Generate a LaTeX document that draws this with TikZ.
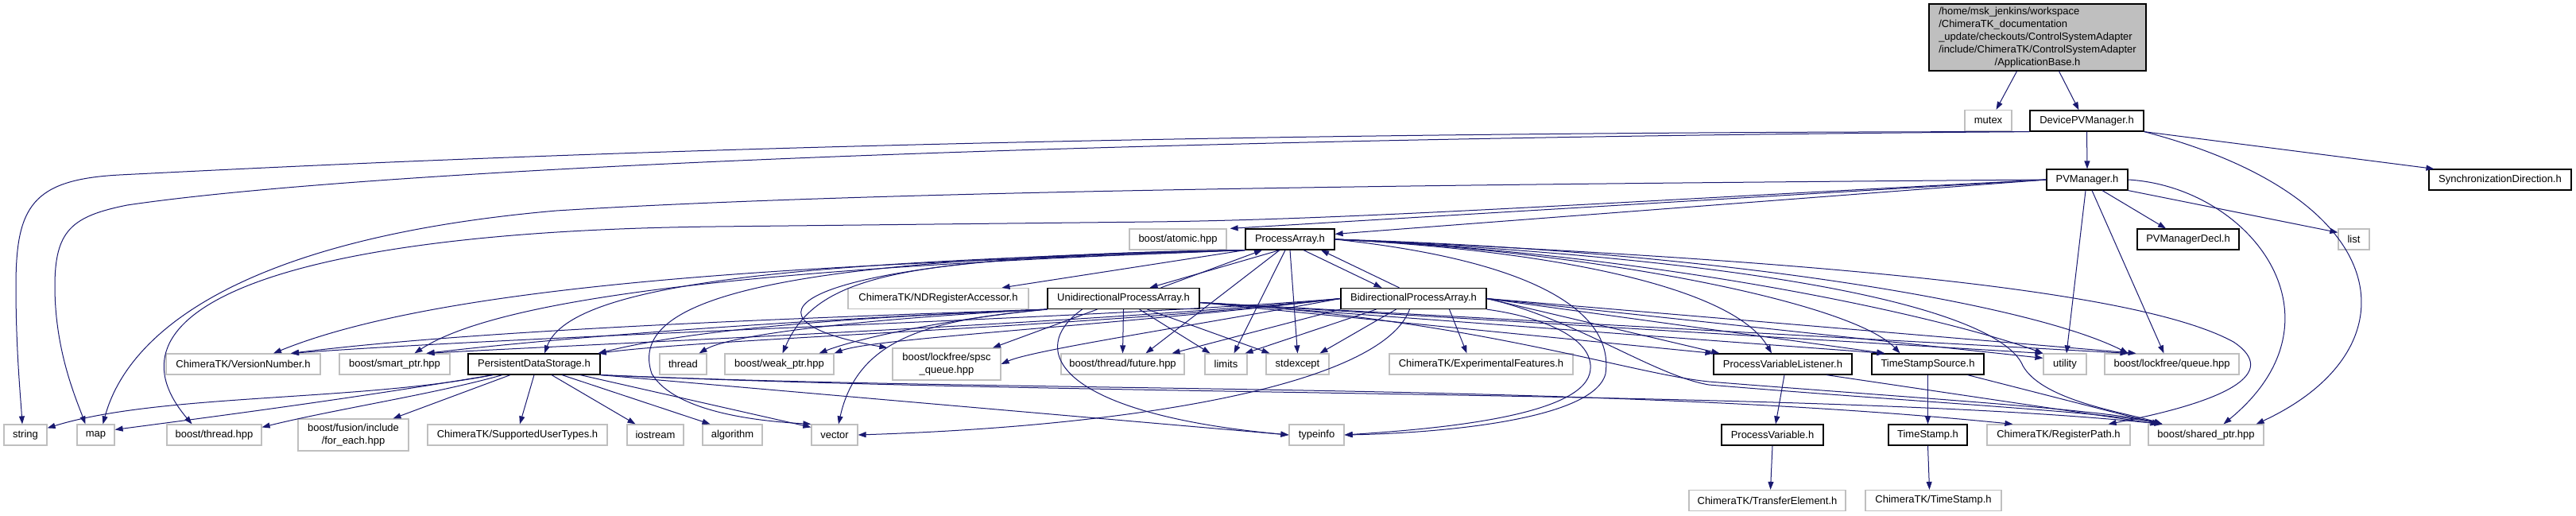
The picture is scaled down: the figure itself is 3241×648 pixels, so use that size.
\documentclass[tikz,border=0pt]{standalone}
\usepackage{fontspec}
\setmainfont{Liberation Sans}
\usetikzlibrary{arrows.meta,calc}

\definecolor{dxblue}{HTML}{191970}
\definecolor{dxgray}{HTML}{BFBFBF}

\tikzset{
  hdr/.style={rectangle, draw=black, line width=1.2pt, fill=white, minimum height=26pt, inner sep=0pt, font=\fontsize{13}{16}\selectfont},
  syshdr/.style={hdr, draw=dxgray},
  dep/.style={draw=dxblue, line width=1pt, -{Triangle[length=10pt,width=7pt]}},
}

\begin{document}
\begin{tikzpicture}[x=1pt,y=-1pt]
\path[fill=white,use as bounding box] (0,0) rectangle (3241,648);

% File being documented
\node[hdr, fill=dxgray, minimum width=273pt, minimum height=84pt] (root) at (2563.5,47) {\begin{tabular}{@{}l@{}}/home/msk\_jenkins/workspace\\/ChimeraTK\_documentation\\\_update/checkouts/ControlSystemAdapter\\/include/ChimeraTK/ControlSystemAdapter\\\multicolumn{1}{@{}c@{}}{/ApplicationBase.h}\end{tabular}};

% Upper headers
\node[syshdr, minimum width=59pt] (mutex) at (2501.5,151.5) {mutex};
\node[hdr, minimum width=143pt] (devpvm) at (2625.5,152) {DevicePVManager.h};
\node[hdr, minimum width=102pt] (pvmgr) at (2626,226) {PVManager.h};
\node[hdr, minimum width=179pt] (syncdir) at (3145.5,226) {SynchronizationDirection.h};
\node[syshdr, minimum width=122pt] (atomic) at (1482,301) {boost/atomic.hpp};
\node[hdr, minimum width=112pt] (parray) at (1623,301) {ProcessArray.h};
\node[hdr, minimum width=128pt] (pvdecl) at (2753,301) {PVManagerDecl.h};
\node[syshdr, minimum width=39pt] (list) at (2961.5,301) {list};
\node[syshdr, minimum width=227pt] (ndracc) at (1180.5,375.5) {ChimeraTK/NDRegisterAccessor.h};
\node[hdr, minimum width=191pt] (uniarr) at (1413.5,375.5) {UnidirectionalProcessArray.h};
\node[hdr, minimum width=183pt] (biarr) at (1778.5,375.5) {BidirectionalProcessArray.h};

% Middle row
\node[syshdr, minimum width=194pt] (vernum) at (306,458) {ChimeraTK/VersionNumber.h};
\node[syshdr, minimum width=139pt] (smartptr) at (496.5,458) {boost/smart\_ptr.hpp};
\node[hdr, minimum width=166pt] (pstore) at (672,458) {PersistentDataStorage.h};
\node[syshdr, minimum width=59pt] (thread) at (859.5,458) {thread};
\node[syshdr, minimum width=137pt] (weakptr) at (980.5,458) {boost/weak\_ptr.hpp};
\node[syshdr, minimum width=136pt, minimum height=40pt, align=center] (spscq) at (1191,458) {boost/lockfree/spsc\\\_queue.hpp};
\node[syshdr, minimum width=155pt] (future) at (1412.5,458) {boost/thread/future.hpp};
\node[syshdr, minimum width=53pt] (limits) at (1542.5,458) {limits};
\node[syshdr, minimum width=79pt] (stdexcept) at (1632.5,458) {stdexcept};
\node[syshdr, minimum width=231pt] (expfeat) at (1863.5,458) {ChimeraTK/ExperimentalFeatures.h};
\node[hdr, minimum width=174pt] (pvlisten) at (2243,458) {ProcessVariableListener.h};
\node[hdr, minimum width=141pt] (tssource) at (2425.5,458) {TimeStampSource.h};
\node[syshdr, minimum width=54pt] (utility) at (2598,458) {utility};
\node[syshdr, minimum width=169pt] (lfqueue) at (2732.5,458) {boost/lockfree/queue.hpp};

% Lower rows
\node[syshdr, minimum width=54pt] (string) at (32,547) {string};
\node[syshdr, minimum width=47pt] (map) at (120.5,547) {map};
\node[syshdr, minimum width=119pt] (bthread) at (269.5,547) {boost/thread.hpp};
\node[syshdr, minimum width=139pt, minimum height=40pt, align=center] (fusion) at (444.5,547) {boost/fusion/include\\/for\_each.hpp};
\node[syshdr, minimum width=226pt] (suptypes) at (651,547) {ChimeraTK/SupportedUserTypes.h};
\node[syshdr, minimum width=71pt] (iostream) at (824.5,547) {iostream};
\node[syshdr, minimum width=75pt] (algorithm) at (921.5,547) {algorithm};
\node[syshdr, minimum width=58pt] (vector) at (1050,547) {vector};
\node[syshdr, minimum width=69pt] (typeinfo) at (1656.5,547) {typeinfo};
\node[hdr, minimum width=128pt] (procvar) at (2230,547) {ProcessVariable.h};
\node[hdr, minimum width=99pt] (tstamp) at (2425.5,547) {TimeStamp.h};
\node[syshdr, minimum width=180pt] (regpath) at (2590,547) {ChimeraTK/RegisterPath.h};
\node[syshdr, minimum width=145pt] (sharedptr) at (2775.5,547) {boost/shared\_ptr.hpp};
\node[syshdr, minimum width=197pt] (xferelem) at (2223.5,629.5) {ChimeraTK/TransferElement.h};
\node[syshdr, minimum width=171pt] (ctkstamp) at (2432.5,629.5) {ChimeraTK/TimeStamp.h};

% Short downward includes
\foreach \a/\s/\b/\t in {root/-26/mutex/10, root/27/devpvm/-10, devpvm/0/pvmgr/0,
  pvmgr/19/pvdecl/-28, pvmgr/-2/utility/2, pvmgr/6/lfqueue/-10,
  parray/-13/uniarr/33, parray/17/biarr/-40, parray/-13/future/29, parray/-6/limits/10, parray/0/stdexcept/0,
  uniarr/-33/spscq/58, uniarr/0/future/0, uniarr/20/limits/-20, uniarr/30/stdexcept/-35,
  biarr/45/expfeat/-18, biarr/-22/stdexcept/28, biarr/-47/limits/24,
  pstore/-30/fusion/50, pstore/0/suptypes/3, pstore/22/iostream/-25, pstore/35/algorithm/-28,
  pvlisten/2/procvar/4, tssource/0/tstamp/0, procvar/0/xferelem/4, tstamp/0/ctkstamp/-5,
  pvlisten/55/sharedptr/-60, tssource/50/sharedptr/-58}
  \draw[dep] ([xshift=\s pt]\a.south) -- ([xshift=\t pt]\b.north);

% Back edges of the array headers
\draw[dep] ([xshift=47pt]uniarr.north) -- ([xshift=-35pt]parray.south);
\draw[dep] ([xshift=-18pt]biarr.north) -- ([xshift=39pt]parray.south);

% DevicePVManager.h
\draw[dep] (devpvm.south east) -- ([xshift=7pt]syncdir.north west);
\draw[dep] (devpvm.south east) .. controls (3020,250) and (3040,440) .. ([xshift=-10pt]sharedptr.north east);
\draw[dep] (devpvm.south west) .. controls (1200,166) and (450,205) .. (150,220) .. controls (40,226) and (20,260) .. (20,360) .. controls (20,440) and (26,500) .. ([xshift=-4pt]string.north);
\draw[dep] (devpvm.south west) .. controls (1300,175) and (450,215) .. (160,258) .. controls (90,272) and (69,290) .. (69,360) .. controls (69,440) and (95,500) .. ([xshift=-13pt]map.north);

% PVManager.h
\draw[dep] (pvmgr.west) -- ([xshift=4pt]atomic.north east);
\draw[dep] (pvmgr.west) -- ($(parray.north east)+(0,7)$);
\draw[dep] (pvmgr.west) .. controls (1800,232) and (1100,240) .. (700,265) .. controls (300,300) and (160,420) .. ([xshift=9pt]map.north);
\draw[dep] (pvmgr.west) .. controls (2000,256) and (1700,276) .. (1450,279) -- (900,285) .. controls (350,291) and (120,390) .. ([xshift=-28pt]bthread.north);
\draw[dep] (pvmgr.south east) -- ($(list.north west)+(0,5)$);
\draw[dep] (pvmgr.east) .. controls (2830,235) and (2960,400) .. ([xshift=22pt]sharedptr.north);

% ProcessArray.h, left side
\draw[dep] (parray.south west) -- ([xshift=80pt]ndracc.north);
\draw[dep] (parray.south west) .. controls (1200,330) and (600,340) .. ([xshift=38pt]vernum.north);
\draw[dep] (parray.south west) .. controls (1100,332) and (650,360) .. ([xshift=25pt]smartptr.north);
\draw[dep] (parray.south west) .. controls (1050,328) and (720,350) .. ([xshift=13pt]pstore.north);
\draw[dep] (parray.south west) .. controls (1150,325) and (1030,340) .. ([xshift=4pt]weakptr.north);
\draw[dep] (parray.south west) .. controls (1000,320) and (900,400) .. ([xshift=-6pt]spscq.north west);
\draw[dep] (parray.south west) .. controls (950,325) and (790,380) .. (820,470) .. controls (850,520) and (960,530) .. (vector.north west);

% ProcessArray.h, right side
\draw[dep] (parray.east) .. controls (1950,330) and (2030,400) .. (2020,470) .. controls (2005,530) and (1800,545) .. (typeinfo.east);
\draw[dep] (parray.east) .. controls (1950,315) and (2180,360) .. ([xshift=-14pt]pvlisten.north);
\draw[dep] (parray.east) .. controls (2000,315) and (2330,380) .. ([xshift=-35pt]tssource.north);
\draw[dep] (parray.east) .. controls (2100,320) and (2450,400) .. (utility.north west);
\draw[dep] (parray.east) .. controls (2150,315) and (2550,380) .. ([xshift=-55pt]lfqueue.north);
\draw[dep] (parray.east) .. controls (2300,330) and (2520,400) .. (2545,460) .. controls (2570,505) and (2680,520) .. ([xshift=-55pt]sharedptr.north);
\draw[dep] (parray.east) .. controls (2350,330) and (2700,370) .. (2810,430) .. controls (2870,470) and (2800,505) .. ([xshift=-28pt]regpath.north east);

% UnidirectionalProcessArray.h
\draw[dep] (uniarr.south west) .. controls (1000,400) and (600,415) .. ([xshift=60pt]vernum.north);
\draw[dep] (uniarr.south west) .. controls (1000,402) and (700,425) .. ([xshift=40pt]smartptr.north);
\draw[dep] (uniarr.south west) .. controls (1000,402) and (850,420) .. ([xshift=-3pt]pstore.north east);
\draw[dep] (uniarr.south west) .. controls (1100,400) and (920,420) .. ([xshift=20pt]thread.north);
\draw[dep] (uniarr.south west) .. controls (1200,400) and (1080,425) .. ([xshift=50pt]weakptr.north);
\draw[dep] (uniarr.south west) .. controls (1180,402) and (1080,420) .. ([xshift=5pt]vector.north);
\draw[dep] ([xshift=-52pt]uniarr.south) .. controls (1290,440) and (1330,520) .. (typeinfo.west);
\draw[dep] ($(uniarr.east)+(0,5)$) -- (pvlisten.north west);
\draw[dep] ($(uniarr.east)+(0,5)$) -- ([xshift=17pt]tssource.north west);
\draw[dep] ($(uniarr.east)+(0,5)$) -- (utility.north west);
\draw[dep] ($(uniarr.east)+(0,5)$) -- ([xshift=-55pt]lfqueue.north);
\draw[dep] ($(uniarr.east)+(0,5)$) .. controls (1850,400) and (2050,470) .. (2150,480) .. controls (2400,500) and (2650,515) .. ([xshift=-55pt]sharedptr.north);

% BidirectionalProcessArray.h
\draw[dep] (biarr.west) .. controls (1400,400) and (700,420) .. ([xshift=60pt]vernum.north);
\draw[dep] (biarr.west) .. controls (1400,405) and (800,430) .. ([xshift=40pt]smartptr.north);
\draw[dep] (biarr.west) .. controls (1400,410) and (900,425) .. ([xshift=-3pt]pstore.north east);
\draw[dep] (biarr.west) .. controls (1400,410) and (1100,425) .. (weakptr.north east);
\draw[dep] (biarr.west) .. controls (1500,410) and (1300,440) .. (spscq.east);
\draw[dep] (biarr.south west) -- ([xshift=62pt]future.north);
\draw[dep] ([xshift=-5pt]biarr.south) .. controls (1740,480) and (1450,535) .. (vector.east);
\draw[dep] (biarr.south east) .. controls (1950,400) and (2010,430) .. (2000,470) .. controls (1985,525) and (1800,540) .. (typeinfo.east);
\draw[dep] (biarr.east) -- ([xshift=8pt]pvlisten.north west);
\draw[dep] (biarr.east) -- ([xshift=17pt]tssource.north west);
\draw[dep] (biarr.east) -- ($(utility.north west)+(0,6)$);
\draw[dep] (biarr.east) -- ([xshift=-45pt]lfqueue.north);
\draw[dep] (biarr.east) .. controls (1980,400) and (2080,472) .. (2150,484) .. controls (2400,505) and (2650,518) .. ([xshift=-55pt]sharedptr.north);

% PersistentDataStorage.h
\draw[dep] ([xshift=-52pt]pstore.south) .. controls (450,505) and (200,495) .. ($(string.north east)+(0,5)$);
\draw[dep] ([xshift=-52pt]pstore.south) .. controls (450,500) and (300,520) .. ($(map.north east)+(0,7)$);
\draw[dep] ([xshift=-40pt]pstore.south) .. controls (550,495) and (420,515) .. ($(bthread.north east)+(0,4)$);
\draw[dep] ([xshift=58pt]pstore.south) -- ($(vector.north west)+(0,4)$);
\draw[dep] (pstore.south east) -- (typeinfo.west);
\draw[dep] (pstore.south east) .. controls (1300,495) and (2000,480) .. ([xshift=33pt]regpath.north west);
\draw[dep] (pstore.south east) .. controls (1400,500) and (2300,490) .. ([xshift=-55pt]sharedptr.north);
\end{tikzpicture}
\end{document}
